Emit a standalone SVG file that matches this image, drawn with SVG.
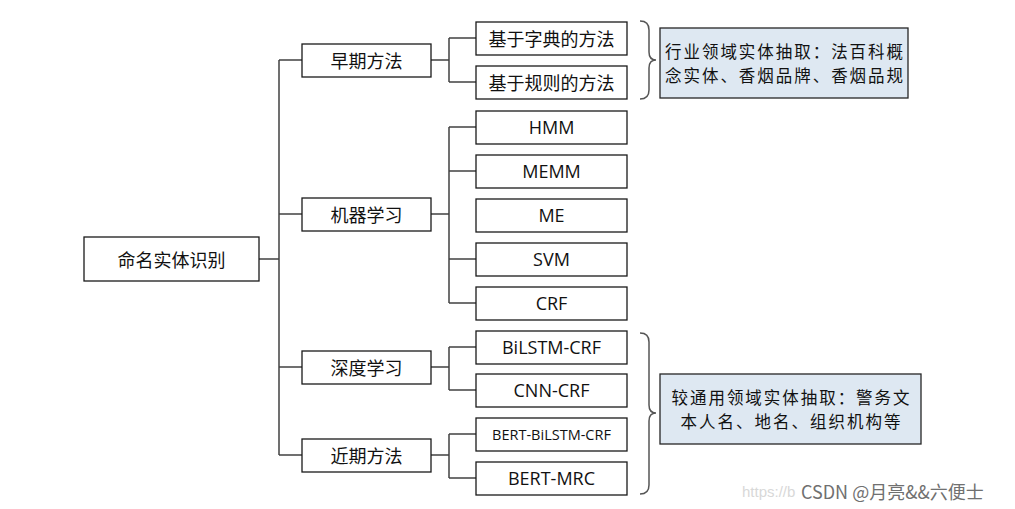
<svg xmlns="http://www.w3.org/2000/svg" width="1015" height="509" viewBox="0 0 1015 509">
<style>
.box{fill:#fff;stroke:#1a1a1a;stroke-width:1.3}
.note{fill:#dee8f2;stroke:#262626;stroke-width:1.3}
.t{font-family:"Noto Sans CJK SC","Liberation Sans",sans-serif;font-size:18px;fill:#111;text-anchor:middle;dominant-baseline:central}
.nt{font-family:"Noto Sans CJK SC","Liberation Sans",sans-serif;font-size:16.5px;fill:#111;text-anchor:middle;dominant-baseline:central}
.e{font-family:"Open Sans","Liberation Sans",sans-serif;font-size:18px;fill:#111;text-anchor:middle;dominant-baseline:central}
.c line{stroke:#404040;stroke-width:1.5;fill:none}
.br{stroke:#555;stroke-width:1.5;fill:none}
</style>
<rect width="1015" height="509" fill="#fff"/>
<g class="c" id="connectors">
<line x1="259" y1="259" x2="279" y2="259"/>
<line x1="279" y1="60" x2="279" y2="455"/>
<line x1="279" y1="60" x2="302" y2="60"/>
<line x1="279" y1="214" x2="302" y2="214"/>
<line x1="279" y1="367" x2="302" y2="367"/>
<line x1="279" y1="455" x2="302" y2="455"/>
<line x1="431" y1="60" x2="449" y2="60"/>
<line x1="449" y1="38" x2="449" y2="82"/>
<line x1="449" y1="38" x2="476" y2="38"/>
<line x1="449" y1="82" x2="476" y2="82"/>
<line x1="431" y1="214" x2="449" y2="214"/>
<line x1="449" y1="127" x2="449" y2="303"/>
<line x1="449" y1="127" x2="476" y2="127"/>
<line x1="449" y1="171" x2="476" y2="171"/>
<line x1="449" y1="259" x2="476" y2="259"/>
<line x1="449" y1="303" x2="476" y2="303"/>
<line x1="431" y1="367" x2="449" y2="367"/>
<line x1="449" y1="347" x2="449" y2="390"/>
<line x1="449" y1="347" x2="476" y2="347"/>
<line x1="449" y1="390" x2="476" y2="390"/>
<line x1="431" y1="455" x2="449" y2="455"/>
<line x1="449" y1="434" x2="449" y2="478"/>
<line x1="449" y1="434" x2="476" y2="434"/>
<line x1="449" y1="478" x2="476" y2="478"/>
</g>
<g id="root"><rect class="box" x="84" y="237" width="175" height="44"/><text class="t" x="171.5" y="259">命名实体识别</text></g>
<g id="n-early"><rect class="box" x="302" y="44" width="129" height="33"/><text class="t" x="366.5" y="60">早期方法</text></g>
<g id="n-ml"><rect class="box" x="302" y="198" width="129" height="33"/><text class="t" x="366.5" y="214">机器学习</text></g>
<g id="n-dl"><rect class="box" x="302" y="351" width="129" height="33"/><text class="t" x="366.5" y="367">深度学习</text></g>
<g id="n-recent"><rect class="box" x="302" y="439" width="129" height="33"/><text class="t" x="366.5" y="455">近期方法</text></g>
<g id="n-dict"><rect class="box" x="476" y="22" width="151" height="33"/><text class="t" x="551.5" y="38">基于字典的方法</text></g>
<g id="n-rule"><rect class="box" x="476" y="66" width="151" height="33"/><text class="t" x="551.5" y="82">基于规则的方法</text></g>
<g id="n-hmm"><rect class="box" x="476" y="111" width="151" height="33"/><text class="e" x="551.5" y="127">HMM</text></g>
<g id="n-memm"><rect class="box" x="476" y="155" width="151" height="33"/><text class="e" x="551.5" y="171">MEMM</text></g>
<g id="n-me"><rect class="box" x="476" y="199" width="151" height="33"/><text class="e" x="551.5" y="215">ME</text></g>
<g id="n-svm"><rect class="box" x="476" y="243" width="151" height="33"/><text class="e" x="551.5" y="259">SVM</text></g>
<g id="n-crf"><rect class="box" x="476" y="287" width="151" height="33"/><text class="e" x="551.5" y="303">CRF</text></g>
<g id="n-bilstm"><rect class="box" x="476" y="331" width="151" height="33"/><text class="e" x="551.5" y="347">BiLSTM-CRF</text></g>
<g id="n-cnn"><rect class="box" x="476" y="374" width="151" height="33"/><text class="e" x="551.5" y="390">CNN-CRF</text></g>
<g id="n-bert-bilstm"><rect class="box" x="476" y="418" width="151" height="33"/><text class="e" x="551.5" y="434" style="font-size:14.5px">BERT-BiLSTM-CRF</text></g>
<g id="n-bert-mrc"><rect class="box" x="476" y="462" width="151" height="33"/><text class="e" x="551.5" y="478">BERT-MRC</text></g>
<g id="braces">
<path class="br" d="M640,21 Q649,21 649,30 L649,52 Q649,60 656,60 Q649,60 649,68 L649,90 Q649,99 640,99"/>
<path class="br" d="M640,333 Q649,333 649,342 L649,405 Q649,413 656,413 Q649,413 649,421 L649,485 Q649,494 640,494"/>
</g>
<g id="note-top"><rect class="note" x="660" y="28" width="248" height="70"/>
<text class="nt" x="784" y="51" textLength="238" lengthAdjust="spacing">行业领域实体抽取：法百科概</text>
<text class="nt" x="784" y="75" textLength="238" lengthAdjust="spacing">念实体、香烟品牌、香烟品规</text></g>
<g id="note-bottom"><rect class="note" x="660" y="374" width="261" height="70"/>
<text class="nt" x="790.5" y="397" textLength="238" lengthAdjust="spacing">较通用领域实体抽取：警务文</text>
<text class="nt" x="790.5" y="421" textLength="220" lengthAdjust="spacing">本人名、地名、组织机构等</text></g>
<text x="742" y="491" style="font-family:'Liberation Sans',sans-serif;font-size:15px;fill:#d8d8d8;dominant-baseline:central">https://b</text>
<text x="801" y="491" style="font-family:'Noto Sans CJK SC','Liberation Sans',sans-serif;font-size:18px;fill:#707070;dominant-baseline:central">CSDN @月亮&amp;&amp;六便士</text>
</svg>
